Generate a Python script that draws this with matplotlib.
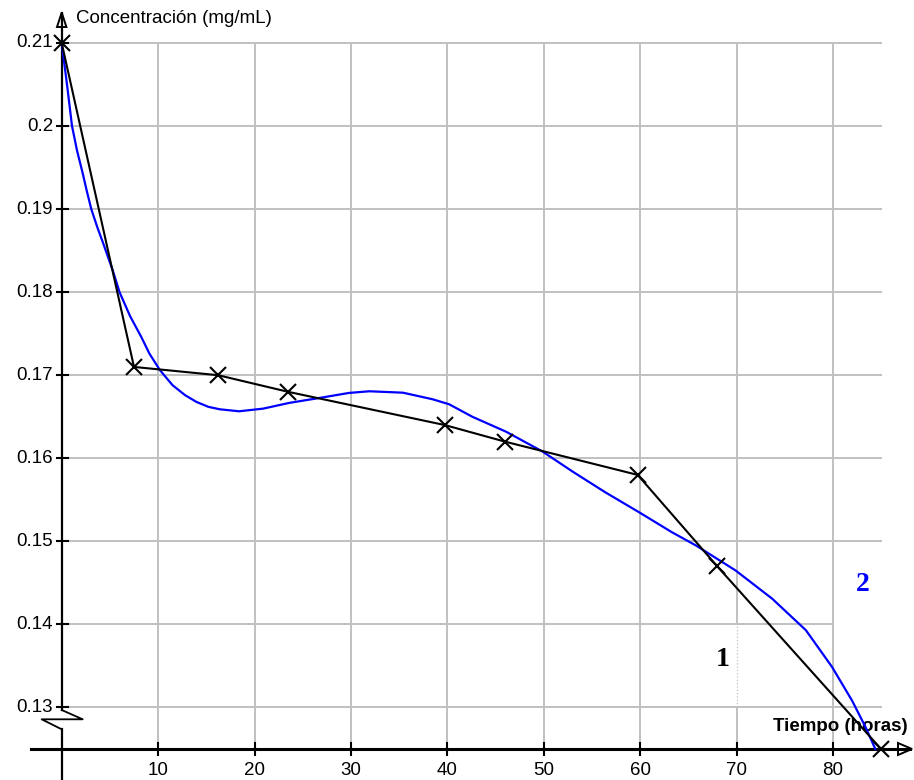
import matplotlib
matplotlib.use("Agg")
import matplotlib.pyplot as plt
from matplotlib.patches import Polygon

# ── Data ───────────────────────────────────────────────
# measured points (black, polyline with x markers)
tiempo = [0, 7.5, 16.25, 23.5, 39.75, 46, 59.75, 68, 85]
conc = [0.210, 0.171, 0.170, 0.168, 0.164, 0.162, 0.158, 0.147, 0.125]

# fitted curve (blue)
curva_t = [0, 0.55, 1.07, 1.6, 2.14, 2.6, 3.07, 3.7, 4.3, 5.3, 6.0, 7.1,
           8.26, 9.1, 10.2, 11.5, 12.8, 13.96, 15.2, 16.4, 18.4, 20.9, 23.6,
           26.4, 29.8, 31.9, 35.4, 38.5, 40.2, 42.6, 46.1, 49.9, 53.0, 56.4,
           59.9, 63.3, 65.8, 69.9, 73.7, 77.2, 79.9, 82.0, 83.4, 84.4]
curva_c = [0.2100, 0.2050, 0.2000, 0.1970, 0.1945, 0.1922, 0.1900, 0.1878,
           0.1859, 0.1826, 0.1800, 0.1771, 0.1746, 0.1726, 0.1706, 0.1688,
           0.1676, 0.1668, 0.1662, 0.1659, 0.16566, 0.16598, 0.16667,
           0.1672, 0.16787, 0.16807, 0.1679, 0.1671, 0.1665, 0.1650, 0.1632,
           0.1608, 0.1584, 0.1559, 0.1535, 0.1511, 0.1495, 0.1465, 0.1431,
           0.1393, 0.1349, 0.1308, 0.1276, 0.1250]

x_ticks = [10, 20, 30, 40, 50, 60, 70, 80]
y_ticks = [0.13, 0.14, 0.15, 0.16, 0.17, 0.18, 0.19, 0.20, 0.21]
y_tick_labels = ["0.13", "0.14", "0.15", "0.16", "0.17", "0.18", "0.19", "0.2", "0.21"]

# ── Pixel <-> data mapping (figure is 914x780 px) ──────
W, H = 914, 780
X0_PX, X_SCALE = 61.7, 9.64        # px of x=0, px per hour
Y_REF, Y_REF_PX, Y_SCALE = 0.21, 43.0, 8306.0


def px2x(px):
    return (px - X0_PX) / X_SCALE


def px2y(py):
    return Y_REF - (py - Y_REF_PX) / Y_SCALE


X_AXIS_Y = 0.125
GRID_XMAX = 85

fig = plt.figure(figsize=(W / 100, H / 100), dpi=100, facecolor="white")
ax = fig.add_axes([0, 0, 1, 1])
ax.set_xlim(px2x(0), px2x(W))
ax.set_ylim(px2y(H), px2y(0))
ax.axis("off")

grid_c = "#c0c0c0"
font = ["Liberation Sans", "DejaVu Sans"]

# ── Grid ───────────────────────────────────────────────
for yv in y_ticks:
    xmax = 80 if abs(yv - 0.14) < 1e-9 else GRID_XMAX
    ax.plot([0, xmax], [yv, yv], color=grid_c, lw=1.4, zorder=1)
for xv in x_ticks:
    if xv == 70:
        ax.plot([xv, xv], [0.14, 0.21], color=grid_c, lw=1.4, zorder=1)
        ax.plot([xv, xv], [0.13, 0.14], color=grid_c, lw=0.9, ls=":", zorder=1)
        ax.plot([xv, xv], [X_AXIS_Y, 0.13], color=grid_c, lw=1.4, zorder=1)
    else:
        ax.plot([xv, xv], [X_AXIS_Y, 0.21], color=grid_c, lw=1.4, zorder=1)

# ── Axes lines ─────────────────────────────────────────
# y axis, broken by the zigzag near 0.128
ax.plot([0, 0], [px2y(H), px2y(729.3)], color="black", lw=1.6, zorder=3)
ax.plot([0, 0], [px2y(710), px2y(13)], color="black", lw=1.6, zorder=3)
zz_x = [px2x(61.7), px2x(82.7), px2x(41.7), px2x(61.7)]
zz_y = [px2y(710), px2y(719.3), px2y(719.3), px2y(729.3)]
ax.plot(zz_x, zz_y, color="black", lw=1.3, zorder=3)

# x axis
ax.plot([px2x(31), px2x(910)], [X_AXIS_Y, X_AXIS_Y], color="black", lw=2.2, zorder=3)

# arrow heads (open triangles)
ax.add_patch(Polygon([(px2x(61.7), px2y(12.5)), (px2x(57.0), px2y(27)),
                      (px2x(66.4), px2y(27))],
                     closed=True, facecolor="none", edgecolor="black", lw=1.4, zorder=4))
ax_px = 749
ax.add_patch(Polygon([(px2x(912), px2y(ax_px)), (px2x(898), px2y(ax_px - 6)),
                      (px2x(898), px2y(ax_px + 6))],
                     closed=True, facecolor="none", edgecolor="black", lw=1.4, zorder=4))

# ticks + labels
for yv, lab in zip(y_ticks, y_tick_labels):
    ax.plot([px2x(57.3), px2x(68.3)], [yv, yv], color="black", lw=1.5, zorder=3)
    ax.text(px2x(53), yv, lab, ha="right", va="center", fontsize=13.5,
            family=font, color="black")
for xv in x_ticks:
    ax.plot([xv, xv], [px2y(742.7), px2y(755.5)], color="black", lw=1.5, zorder=3)
    ax.text(xv, px2y(771), str(xv), ha="center", va="center", fontsize=13.5,
            family=font, color="black")

# axis titles
ax.text(px2x(76.5), px2y(23.3), "Concentración (mg/mL)", ha="left", va="baseline",
        fontsize=13.5, family=font, color="black")
ax.text(px2x(908), px2y(730.7), "Tiempo (horas)", ha="right", va="baseline",
        fontsize=13.5, fontweight="bold", family=font, color="black", zorder=2)

# ── Series ─────────────────────────────────────────────
ax.plot(curva_t, curva_c, color="#0000ff", lw=1.6, zorder=5)
ax.plot(tiempo, conc, color="black", lw=1.5, marker="x", markersize=11,
        markeredgewidth=1.5, zorder=6)

# curve labels
serif = ["Liberation Serif", "DejaVu Serif"]
ax.text(px2x(722.7), px2y(660), "1", ha="center", va="center", fontsize=20,
        fontweight="bold", family=serif, color="black")
ax.text(px2x(862.7), px2y(585), "2", ha="center", va="center", fontsize=20,
        fontweight="bold", family=serif, color="#0000ff")

fig.savefig("out.png", dpi=100, facecolor="white")
